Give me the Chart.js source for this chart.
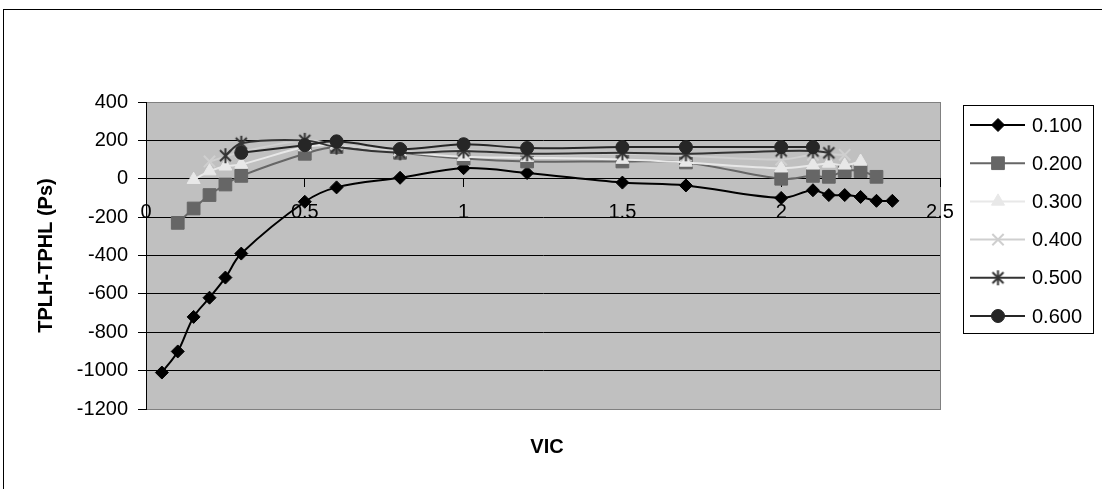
<!DOCTYPE html>
<html>
<head>
<meta charset="utf-8">
<script src="https://cdn.jsdelivr.net/npm/chart.js@4/dist/chart.umd.min.js"></script>
<style>
  body { margin: 0; background: #fff; }
  #wrap { width: 1102px; height: 489px; }
</style>
</head>
<body>
<div id="wrap"><canvas id="chart" width="1102" height="489"></canvas></div>
<script>
// series names
const seriesNames = ['0.100', '0.200', '0.300', '0.400', '0.500', '0.600'];

// VIC values and TPLH-TPHL (ps) per series
const vic100 = [0.05, 0.1, 0.15, 0.2, 0.25, 0.3, 0.5, 0.6, 0.8, 1.0, 1.2, 1.5, 1.7, 2.0, 2.1, 2.15, 2.2, 2.25, 2.3, 2.35];
const tp100  = [-1010, -900, -720, -620, -515, -390, -120, -45, 5, 55, 30, -20, -35, -100, -60, -85, -85, -95, -115, -115];

const vic200 = [0.1, 0.15, 0.2, 0.25, 0.3, 0.5, 0.6, 0.8, 1.0, 1.2, 1.5, 1.7, 2.0, 2.1, 2.15, 2.2, 2.25, 2.3];
const tp200  = [-230, -155, -85, -30, 15, 130, 165, 135, 105, 90, 90, 85, 0, 15, 10, 40, 40, 10];

const vic300 = [0.15, 0.2, 0.25, 0.3, 0.5, 0.6, 0.8, 1.0, 1.2, 1.5, 1.7, 2.0, 2.1, 2.15, 2.2, 2.25];
const tp300  = [-5, 40, 65, 75, 165, 175, 140, 115, 110, 100, 85, 55, 70, 80, 70, 90];

const vic400 = [0.2, 0.25, 0.3, 0.5, 0.6, 0.8, 1.0, 1.2, 1.5, 1.7, 2.0, 2.1, 2.2];
const tp400  = [90, 115, 140, 200, 180, 140, 150, 125, 130, 120, 100, 125, 125];

const vic500 = [0.25, 0.3, 0.5, 0.6, 0.8, 1.0, 1.2, 1.5, 1.7, 2.0, 2.1, 2.15];
const tp500  = [120, 185, 200, 165, 135, 145, 130, 135, 130, 145, 145, 135];

const vic600 = [0.3, 0.5, 0.6, 0.8, 1.0, 1.2, 1.5, 1.7, 2.0, 2.1];
const tp600  = [135, 175, 195, 155, 180, 160, 165, 165, 165, 165];

// axis ticks
const xTicks = [0, 0.5, 1, 1.5, 2, 2.5];
const yTicks = [-1200, -1000, -800, -600, -400, -200, 0, 200, 400];

const FONT = "'Liberation Sans', Arial, sans-serif";

function toPoints(xs, ys) {
  return xs.map((x, i) => ({ x: x, y: ys[i] }));
}

// excel-like asterisk marker (vertical bar + X)
function makeStar(color) {
  const c = document.createElement('canvas');
  c.width = 17; c.height = 17;
  const g = c.getContext('2d');
  g.strokeStyle = color;
  g.lineWidth = 2;
  g.beginPath();
  g.moveTo(8.5, 1); g.lineTo(8.5, 16);
  g.moveTo(3, 3); g.lineTo(14, 14);
  g.moveTo(14, 3); g.lineTo(3, 14);
  g.stroke();
  return c;
}

const styles = [
  { color: '#000000', fill: '#000000', point: 'rectRot', radius: 6.5 },
  { color: '#666666', fill: '#666666', point: 'rect', radius: 9 },
  { color: '#e8e8e8', fill: '#e8e8e8', point: 'triangle', radius: 7.5 },
  { color: '#cfcfcf', fill: '#cfcfcf', point: 'crossRot', radius: 8 },
  { color: '#333333', fill: '#333333', point: makeStar('#333333'), radius: 8 },
  { color: '#262626', fill: '#262626', point: 'circle', radius: 6.5 }
];

const seriesData = [
  toPoints(vic100, tp100), toPoints(vic200, tp200), toPoints(vic300, tp300),
  toPoints(vic400, tp400), toPoints(vic500, tp500), toPoints(vic600, tp600)
];

const datasets = seriesNames.map((name, i) => ({
  label: name,
  data: seriesData[i],
  borderColor: styles[i].color,
  backgroundColor: styles[i].fill,
  borderWidth: 2,
  tension: 0.35,
  pointStyle: styles[i].point,
  pointRadius: styles[i].radius,
  pointBorderWidth: styles[i].point === 'crossRot' ? 2 : 1,
  pointBackgroundColor: styles[i].fill,
  pointBorderColor: styles[i].color,
  order: seriesNames.length - i
}));

// gray plot area, plot border, outer chart border
const plotBackground = {
  id: 'plotBackground',
  beforeDraw(chart) {
    const { ctx, chartArea: a } = chart;
    ctx.save();
    ctx.strokeStyle = '#000';
    ctx.lineWidth = 1;
    ctx.strokeRect(3.5, 9.5, 1300, 600);
    ctx.fillStyle = '#c0c0c0';
    ctx.fillRect(a.left, a.top, a.right - a.left, a.bottom - a.top);
    ctx.strokeStyle = '#808080';
    ctx.strokeRect(a.left + 0.5, a.top + 0.5, a.right - a.left, a.bottom - a.top);
    ctx.restore();
  }
};

// legend box and x axis title
const sideLegend = {
  id: 'sideLegend',
  afterDraw(chart) {
    const { ctx } = chart;
    ctx.save();
    ctx.fillStyle = '#fff';
    ctx.fillRect(963.5, 105.5, 130, 228);
    ctx.strokeStyle = '#000';
    ctx.lineWidth = 1;
    ctx.strokeRect(963.5, 105.5, 130, 228);
    chart.data.datasets.forEach((ds, i) => {
      const y = 125 + i * 38.2;
      ctx.strokeStyle = ds.borderColor;
      ctx.lineWidth = 2;
      ctx.beginPath();
      ctx.moveTo(970, y);
      ctx.lineTo(1025, y);
      ctx.stroke();
      ctx.fillStyle = ds.pointBackgroundColor;
      ctx.strokeStyle = ds.pointBorderColor;
      ctx.lineWidth = ds.pointBorderWidth;
      Chart.helpers.drawPoint(ctx, {
        pointStyle: ds.pointStyle, radius: ds.pointRadius, rotation: 0, borderWidth: ds.pointBorderWidth
      }, 998, y);
      ctx.fillStyle = '#000';
      ctx.font = '20px ' + FONT;
      ctx.textAlign = 'left';
      ctx.textBaseline = 'middle';
      ctx.fillText(ds.label, 1032, y + 1);
    });
    ctx.font = 'bold 20px ' + FONT;
    ctx.textAlign = 'center';
    ctx.textBaseline = 'middle';
    ctx.fillStyle = '#000';
    const a = chart.chartArea;
    ctx.fillText('VIC', (a.left + a.right) / 2 + 4, 447);
    ctx.restore();
  }
};

const ctx = document.getElementById('chart').getContext('2d');
const chart = new Chart(ctx, {
  type: 'line',
  data: { datasets: datasets },
  options: {
    responsive: false,
    animation: false,
    devicePixelRatio: 1,
    layout: { padding: { left: 10, top: 102, right: 162, bottom: 80 } },
    plugins: {
      legend: { display: false },
      tooltip: { enabled: false }
    },
    scales: {
      x: {
        type: 'linear',
        min: xTicks[0],
        max: xTicks[xTicks.length - 1],
        position: { y: 0 },
        afterBuildTicks: (scale) => { scale.ticks = xTicks.map(v => ({ value: v })); },
        ticks: {
          color: '#000',
          padding: 14,
          maxRotation: 0,
          autoSkip: false,
          font: { family: FONT, size: 20 },
          callback: (v) => String(v)
        },
        grid: { drawOnChartArea: false, tickLength: 8, tickColor: '#000', lineWidth: 1 },
        border: { color: '#000', width: 1 }
      },
      y: {
        type: 'linear',
        min: yTicks[0],
        max: yTicks[yTicks.length - 1],
        afterBuildTicks: (scale) => { scale.ticks = yTicks.map(v => ({ value: v })); },
        afterFit: (scale) => { scale.width = 136; },
        ticks: {
          color: '#000',
          padding: 10,
          font: { family: FONT, size: 20 },
          callback: (v) => String(v)
        },
        grid: {
          color: (c) => (c.tick && (c.tick.value === 400 || c.tick.value === -1200)) ? '#808080' : '#000',
          tickColor: '#000',
          tickLength: 8,
          lineWidth: 1
        },
        border: { color: '#000', width: 1 },
        title: {
          display: true,
          text: 'TPLH-TPHL (Ps)',
          color: '#000',
          font: { family: FONT, size: 20, weight: 'bold' },
          padding: { top: 24, bottom: 0 }
        }
      }
    }
  },
  plugins: [plotBackground, sideLegend]
});
</script>
</body>
</html>
